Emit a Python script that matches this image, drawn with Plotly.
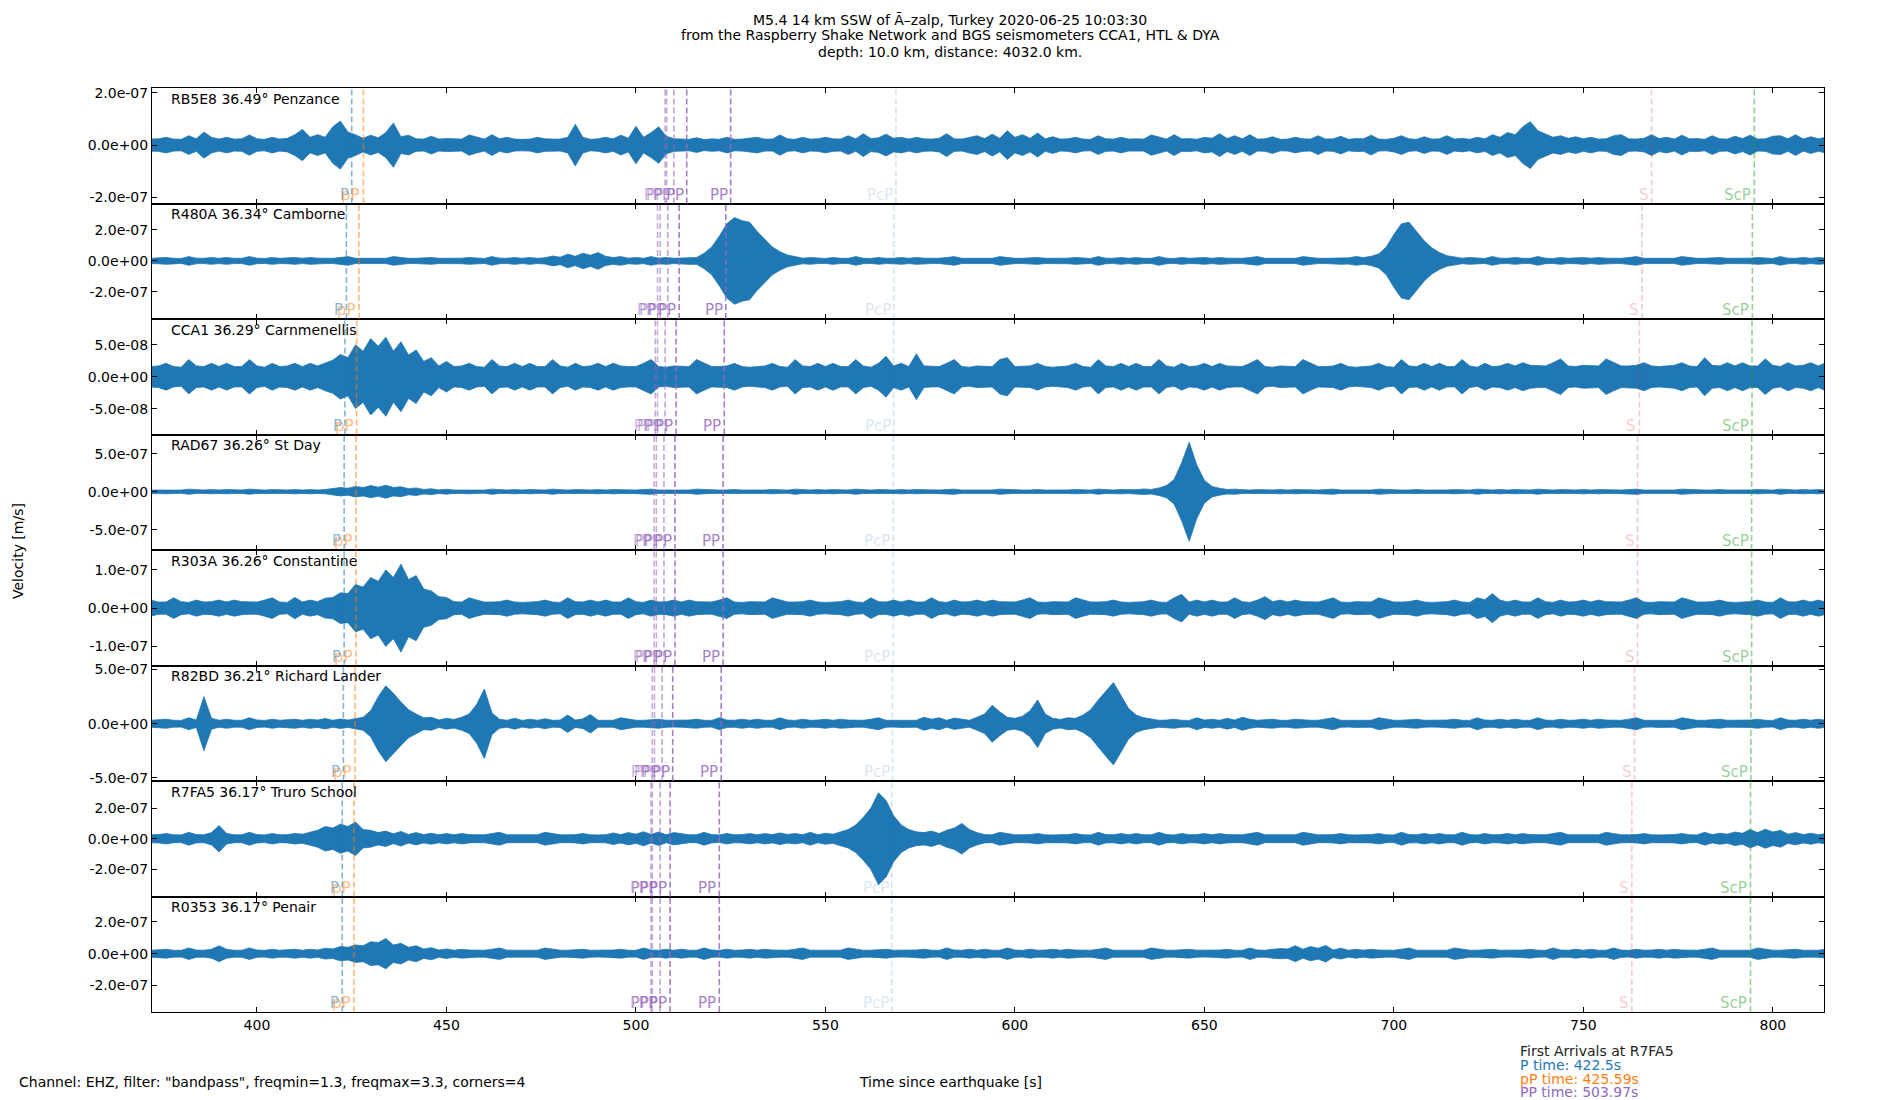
import numpy as np
import plotly.graph_objects as go
from plotly.subplots import make_subplots

# ---------------- data ----------------
stations = ["RB5E8", "R480A", "CCA1", "RAD67", "R303A", "R82BD", "R7FA5", "R0353"]
distances = [36.49, 36.34, 36.29, 36.26, 36.26, 36.21, 36.17, 36.17]
places = ["Penzance", "Camborne", "Carnmenellis", "St Day", "Constantine",
          "Richard Lander", "Truro School", "Penair"]

# y-axis limits of each panel (m/s) and the +/- tick value
y_lo = [-2.24e-7, -3.75e-7, -9.06e-8, -7.65e-7, -1.50e-7, -5.28e-7, -3.77e-7, -3.67e-7]
y_hi = [2.19e-7, 3.71e-7, 9.06e-8, 7.51e-7, 1.52e-7, 5.37e-7, 3.77e-7, 3.60e-7]
y_tick = [2e-7, 2e-7, 5e-8, 5e-7, 1e-7, 5e-7, 2e-7, 2e-7]

x_ticks = [400, 450, 500, 550, 600, 650, 700, 750, 800]
x_range = [372.3, 813.5]

# trace envelopes (peak |velocity|, in 1e-9 m/s) every 2 s starting at 372 s
T_START = 372.0
T_STEP = 2.0

env_rb5e8 = [
    23, 24, 30, 23, 22, 36, 24, 50, 30, 23,
    30, 23, 24, 39, 24, 22, 30, 23, 26, 40,
    60, 30, 40, 30, 70, 92, 50, 40, 26, 38,
    28, 48, 85, 32, 38, 24, 23, 34, 23, 25,
    24, 23, 39, 30, 23, 40, 24, 30, 23, 22,
    23, 30, 24, 23, 23, 30, 80, 30, 22, 24,
    30, 24, 38, 26, 72, 30, 48, 70, 34, 24,
    23, 22, 28, 21, 24, 22, 30, 22, 23, 26,
    30, 23, 23, 39, 24, 22, 30, 23, 24, 30,
    24, 23, 36, 24, 44, 25, 28, 42, 26, 30,
    23, 30, 24, 23, 26, 44, 24, 23, 30, 36,
    25, 42, 26, 55, 30, 40, 26, 46, 24, 32,
    23, 24, 30, 23, 22, 36, 24, 23, 30, 23,
    24, 23, 39, 30, 23, 40, 24, 25, 22, 30,
    26, 44, 25, 36, 24, 40, 23, 24, 32, 22,
    23, 30, 24, 23, 36, 23, 24, 34, 22, 25,
    24, 38, 23, 22, 26, 36, 24, 22, 32, 23,
    24, 36, 23, 26, 22, 30, 24, 40, 30, 48,
    40, 70, 90, 55, 44, 30, 36, 26, 32, 24,
    30, 23, 24, 36, 40, 24, 23, 26, 40, 25,
    30, 23, 38, 24, 25, 22, 36, 24, 23, 34,
    25, 38, 23, 24, 34, 36, 24, 40, 23, 32,
    24, 30]

env_r480a = [
    17, 18, 22, 17, 16, 28, 18, 17, 22, 17,
    22, 17, 17, 28, 18, 16, 22, 17, 18, 22,
    17, 22, 18, 17, 17, 22, 28, 17, 16, 18,
    18, 17, 28, 22, 17, 17, 18, 22, 17, 16,
    17, 18, 22, 17, 16, 28, 18, 17, 22, 17,
    22, 17, 20, 32, 24, 44, 30, 50, 36, 54,
    30, 22, 28, 18, 22, 17, 28, 18, 22, 17,
    18, 22, 22, 50, 90, 160, 240, 280, 260, 250,
    190, 140, 90, 60, 38, 28, 18, 22, 17, 16,
    22, 17, 17, 28, 18, 16, 22, 17, 18, 22,
    17, 22, 18, 17, 17, 22, 28, 17, 16, 18,
    18, 17, 28, 22, 17, 17, 18, 22, 17, 16,
    17, 18, 22, 17, 16, 28, 18, 17, 22, 17,
    22, 17, 17, 28, 18, 16, 22, 17, 18, 22,
    17, 22, 18, 17, 17, 22, 28, 17, 16, 18,
    18, 17, 28, 22, 17, 17, 18, 22, 20, 28,
    22, 30, 45, 90, 170, 240, 250, 190, 130, 85,
    55, 34, 24, 18, 22, 17, 16, 28, 18, 17,
    22, 17, 17, 28, 18, 16, 22, 17, 18, 22,
    17, 22, 18, 17, 17, 22, 28, 17, 16, 18,
    18, 17, 28, 22, 17, 17, 18, 22, 17, 16,
    17, 18, 22, 17, 16, 28, 18, 17, 22, 17,
    22, 18]

env_cca1 = [
    16, 17, 21, 16, 15, 27, 17, 16, 21, 16,
    21, 16, 16, 27, 17, 15, 21, 16, 17, 21,
    16, 21, 17, 22, 26, 35, 30, 50, 40, 60,
    48, 62, 40, 55, 34, 42, 24, 30, 17, 24,
    16, 17, 21, 16, 15, 27, 17, 16, 21, 16,
    21, 16, 16, 27, 17, 15, 21, 16, 17, 21,
    16, 21, 17, 16, 16, 21, 27, 16, 15, 17,
    17, 16, 27, 21, 16, 16, 17, 21, 16, 15,
    16, 17, 21, 16, 15, 27, 17, 16, 21, 16,
    21, 16, 16, 27, 17, 15, 21, 32, 17, 21,
    16, 36, 17, 16, 16, 21, 27, 16, 15, 17,
    17, 16, 27, 30, 16, 16, 17, 21, 16, 15,
    16, 17, 21, 16, 15, 27, 17, 16, 21, 16,
    21, 16, 16, 27, 17, 15, 21, 16, 17, 21,
    16, 21, 17, 16, 16, 21, 27, 16, 15, 17,
    17, 16, 27, 21, 16, 16, 17, 21, 16, 15,
    16, 17, 21, 16, 15, 27, 17, 16, 21, 16,
    21, 16, 16, 27, 17, 15, 21, 16, 17, 21,
    17, 22, 18, 17, 17, 22, 28, 17, 16, 18,
    18, 17, 28, 22, 17, 17, 18, 22, 17, 16,
    17, 18, 22, 17, 16, 30, 18, 17, 22, 17,
    22, 17, 17, 28, 18, 16, 22, 17, 18, 22,
    17, 22]

env_rad67 = [
    22, 23, 28, 22, 21, 34, 23, 22, 28, 22,
    28, 22, 22, 34, 23, 21, 28, 22, 23, 28,
    22, 28, 23, 28, 40, 55, 45, 70, 55, 80,
    60, 85, 55, 65, 40, 50, 30, 38, 24, 32,
    22, 23, 28, 22, 21, 34, 23, 22, 28, 22,
    28, 22, 22, 34, 23, 21, 28, 22, 23, 28,
    22, 28, 23, 22, 22, 28, 34, 22, 21, 23,
    23, 22, 34, 28, 22, 22, 23, 28, 22, 21,
    22, 23, 28, 22, 21, 34, 23, 22, 28, 22,
    28, 22, 22, 34, 23, 21, 28, 22, 23, 28,
    22, 28, 23, 22, 22, 28, 34, 22, 21, 23,
    23, 22, 34, 28, 22, 22, 23, 28, 22, 21,
    22, 23, 28, 22, 21, 34, 23, 22, 28, 24,
    26, 36, 30, 50, 80, 160, 380, 650, 350, 150,
    70, 45, 30, 34, 23, 21, 28, 22, 23, 28,
    22, 28, 23, 22, 22, 28, 34, 22, 21, 23,
    23, 22, 34, 28, 22, 22, 23, 28, 22, 21,
    22, 23, 28, 22, 21, 34, 23, 22, 28, 22,
    28, 22, 22, 34, 23, 21, 28, 22, 23, 28,
    22, 28, 23, 22, 22, 28, 34, 22, 21, 23,
    23, 22, 34, 28, 22, 22, 23, 28, 22, 21,
    22, 23, 28, 22, 21, 34, 23, 22, 28, 22,
    28, 22]

env_r303a = [
    21, 16, 16, 27, 17, 15, 21, 16, 17, 21,
    16, 21, 17, 16, 16, 21, 27, 16, 15, 28,
    16, 21, 17, 26, 28, 40, 38, 62, 55, 80,
    70, 100, 80, 115, 75, 85, 50, 45, 30, 28,
    17, 16, 27, 21, 16, 16, 17, 21, 16, 15,
    16, 17, 21, 16, 15, 27, 17, 16, 21, 16,
    21, 16, 16, 27, 17, 15, 21, 16, 17, 21,
    16, 21, 17, 16, 16, 21, 27, 16, 15, 17,
    17, 16, 27, 21, 16, 16, 17, 21, 16, 15,
    16, 17, 21, 16, 15, 27, 17, 16, 21, 16,
    21, 16, 16, 27, 17, 15, 21, 16, 17, 21,
    16, 21, 17, 16, 16, 21, 27, 16, 15, 17,
    17, 16, 27, 21, 16, 16, 17, 21, 16, 15,
    16, 17, 21, 16, 15, 27, 36, 16, 21, 16,
    21, 16, 16, 27, 17, 15, 21, 30, 17, 21,
    16, 21, 17, 16, 16, 21, 27, 16, 15, 17,
    17, 16, 27, 21, 16, 16, 17, 21, 16, 15,
    16, 17, 21, 16, 15, 27, 22, 38, 21, 16,
    21, 16, 16, 27, 17, 15, 21, 16, 17, 21,
    16, 21, 17, 16, 16, 21, 27, 16, 15, 17,
    17, 16, 27, 21, 16, 16, 17, 21, 16, 15,
    16, 17, 21, 16, 15, 27, 17, 16, 21, 16,
    21, 16]

env_r82bd = [
    32, 34, 42, 32, 31, 55, 34, 250, 50, 32,
    42, 32, 32, 55, 34, 31, 42, 32, 34, 42,
    32, 42, 34, 48, 32, 44, 34, 50, 60, 120,
    250, 350, 280, 200, 130, 90, 55, 60, 35, 50,
    40, 60, 90, 180, 320, 100, 42, 32, 50, 31,
    42, 32, 46, 32, 34, 80, 34, 45, 85, 32,
    34, 32, 55, 42, 32, 32, 34, 42, 32, 31,
    32, 34, 42, 32, 31, 55, 34, 32, 42, 32,
    42, 32, 32, 55, 34, 31, 42, 32, 34, 42,
    32, 42, 34, 32, 32, 42, 55, 32, 31, 34,
    34, 32, 60, 42, 55, 32, 52, 42, 32, 60,
    90, 170, 110, 60, 50, 70, 120, 220, 90, 50,
    40, 55, 50, 80, 130, 220, 300, 380, 260, 140,
    80, 56, 44, 32, 34, 42, 32, 31, 55, 34,
    42, 32, 50, 34, 60, 42, 32, 34, 42, 32,
    32, 42, 34, 32, 32, 42, 55, 32, 31, 34,
    34, 32, 55, 42, 32, 32, 34, 42, 32, 31,
    32, 34, 42, 32, 31, 55, 34, 32, 42, 32,
    42, 32, 32, 55, 34, 31, 42, 32, 34, 42,
    32, 42, 34, 32, 32, 42, 55, 32, 31, 34,
    34, 32, 55, 42, 32, 32, 34, 42, 32, 31,
    32, 34, 42, 32, 31, 55, 34, 32, 42, 32,
    42, 32]

env_r7fa5 = [
    26, 27, 34, 26, 25, 42, 27, 26, 40, 86,
    34, 26, 26, 42, 27, 25, 34, 26, 27, 34,
    30, 42, 55, 80, 70, 95, 80, 110, 60, 55,
    40, 50, 32, 48, 28, 40, 27, 36, 26, 34,
    26, 34, 27, 26, 26, 34, 42, 26, 25, 27,
    27, 26, 42, 34, 26, 26, 27, 34, 26, 25,
    26, 38, 27, 40, 30, 46, 28, 44, 26, 40,
    34, 26, 26, 42, 27, 25, 34, 26, 27, 34,
    26, 34, 27, 38, 28, 34, 26, 42, 26, 36,
    30, 46, 60, 90, 140, 200, 300, 250, 150, 90,
    60, 45, 40, 50, 34, 55, 70, 100, 60, 40,
    27, 26, 42, 34, 26, 26, 27, 34, 26, 25,
    26, 27, 34, 26, 25, 42, 27, 26, 34, 26,
    34, 26, 26, 42, 27, 25, 34, 26, 27, 34,
    26, 34, 27, 26, 26, 34, 42, 26, 25, 27,
    27, 26, 42, 34, 26, 26, 27, 34, 26, 25,
    26, 27, 34, 26, 25, 42, 27, 26, 34, 26,
    34, 26, 26, 42, 27, 25, 34, 26, 27, 34,
    26, 34, 27, 26, 26, 34, 42, 26, 25, 27,
    27, 26, 42, 34, 26, 26, 27, 34, 26, 25,
    26, 27, 34, 26, 25, 42, 27, 36, 30, 44,
    36, 60, 40, 62, 44, 55, 30, 40, 27, 36,
    26, 34]

env_r0353 = [
    22, 23, 28, 22, 21, 36, 23, 22, 28, 50,
    28, 22, 22, 36, 23, 21, 28, 22, 23, 28,
    22, 28, 23, 34, 30, 45, 40, 55, 50, 75,
    70, 95, 55, 65, 40, 50, 30, 38, 23, 30,
    22, 28, 23, 22, 22, 28, 36, 22, 21, 23,
    23, 22, 36, 28, 22, 22, 23, 28, 22, 21,
    22, 23, 28, 22, 21, 36, 23, 22, 28, 22,
    28, 22, 22, 36, 23, 21, 28, 22, 23, 28,
    22, 28, 23, 22, 22, 28, 36, 22, 21, 23,
    23, 22, 36, 28, 22, 22, 23, 28, 22, 21,
    22, 23, 28, 22, 21, 36, 23, 22, 28, 22,
    28, 22, 22, 36, 23, 21, 28, 22, 23, 28,
    22, 28, 23, 22, 22, 28, 36, 22, 21, 23,
    23, 22, 36, 28, 22, 22, 23, 28, 22, 21,
    22, 23, 28, 22, 21, 36, 23, 22, 28, 32,
    30, 50, 28, 45, 34, 52, 24, 34, 22, 28,
    22, 28, 23, 22, 22, 28, 36, 22, 21, 23,
    23, 22, 36, 28, 22, 22, 23, 28, 22, 21,
    22, 23, 28, 22, 21, 36, 23, 22, 28, 22,
    28, 22, 22, 36, 23, 21, 28, 22, 23, 28,
    22, 28, 23, 22, 22, 28, 36, 22, 21, 23,
    23, 22, 36, 28, 22, 22, 23, 28, 22, 21,
    22, 28]

envelopes = [env_rb5e8, env_r480a, env_cca1, env_rad67,
             env_r303a, env_r82bd, env_r7fa5, env_r0353]

# phase arrival times (s) per station
p_times = [425.0, 423.6, 423.2, 423.0, 423.0, 422.8, 422.5, 422.5]
pP_times = [428.1, 426.9, 426.3, 426.1, 426.1, 425.9, 425.59, 425.59]
pp1_times = [507.7, 505.7, 505.1, 504.8, 504.8, 504.3, 503.97, 503.97]
pp2_times = [508.1, 506.4, 505.7, 505.4, 505.4, 504.9, 504.3, 504.3]
pp3_times = [510.0, 508.4, 507.7, 507.4, 507.4, 506.9, 506.4, 506.4]
pp4_times = [513.4, 511.4, 510.6, 510.3, 510.3, 509.7, 509.0, 509.0]
pp5_times = [525.0, 523.7, 523.3, 523.0, 523.0, 522.5, 522.0, 522.0]
pcp_times = [568.6, 568.1, 568.0, 567.9, 567.9, 567.7, 567.5, 567.5]
s_times = [768.0, 765.5, 764.8, 764.3, 764.3, 763.5, 762.8, 762.8]
scp_times = [795.1, 794.6, 794.5, 794.4, 794.4, 794.2, 794.1, 794.1]

phases = [
    ("P", p_times, "rgba(31,119,180,0.55)"),
    ("pP", pP_times, "rgba(255,127,14,0.55)"),
    ("PP", pp1_times, "rgba(148,103,189,0.55)"),
    ("PP", pp2_times, "rgba(148,103,189,0.55)"),
    ("PP", pp3_times, "rgba(148,103,189,0.6)"),
    ("PP", pp4_times, "rgba(148,103,189,0.85)"),
    ("PP", pp5_times, "rgba(148,103,189,0.85)"),
    ("PcP", pcp_times, "rgba(31,119,180,0.2)"),
    ("S", s_times, "rgba(214,39,40,0.25)"),
    ("ScP", scp_times, "rgba(44,160,44,0.5)"),
]

title_lines = [
    "M5.4 14 km SSW of \u00c3\u2013zalp, Turkey 2020-06-25 10:03:30",
    "from the Raspberry Shake Network and BGS seismometers CCA1, HTL & DYA",
    "depth: 10.0 km, distance: 4032.0 km.",
]
arrival_lines = [
    ("First Arrivals at R7FA5", "#222222"),
    ("P time: 422.5s", "#1f77b4"),
    ("pP time: 425.59s", "#ff7f0e"),
    ("PP time: 503.97s", "#9467bd"),
]

# ---------------- figure ----------------
BLUE = "#1f77b4"
FONT = "DejaVu Sans"
W, H = 1900, 1100
L, R, T, B = 152, 1824, 88, 1012  # plot area in pixels

n = len(stations)
fig = make_subplots(rows=n, cols=1, shared_xaxes=True, vertical_spacing=0)

for i in range(n):
    a = np.array(envelopes[i], dtype=float) * 1e-9
    t = T_START + T_STEP * np.arange(len(a))
    x = np.concatenate([t, t[::-1]])
    y = np.concatenate([a, -a[::-1]])
    fig.add_trace(go.Scatter(x=x, y=y, mode="lines", fill="toself",
                             fillcolor=BLUE, line=dict(color=BLUE, width=0.8),
                             hoverinfo="skip", showlegend=False),
                  row=i + 1, col=1)
    tv = [y_tick[i], 0.0, -y_tick[i]]
    fig.update_yaxes(range=[y_lo[i], y_hi[i]], tickvals=tv,
                     ticktext=[f"{v:.1e}" for v in tv], row=i + 1, col=1)

fig.update_yaxes(showline=True, linecolor="black", linewidth=1, mirror="allticks",
                 ticks="inside", ticklen=5, tickwidth=1, tickcolor="black",
                 showgrid=False, zeroline=False,
                 tickfont=dict(family=FONT, size=14, color="black"))
fig.update_xaxes(range=x_range, tickvals=x_ticks, showline=True, linecolor="black",
                 linewidth=1, mirror="allticks", ticks="inside", ticklen=5,
                 tickwidth=1, tickcolor="black", showgrid=False, zeroline=False,
                 tickfont=dict(family=FONT, size=14, color="black"))

shapes = []
annotations = []
for i in range(n):
    xr = "x" if i == 0 else f"x{i + 1}"
    yd = "y domain" if i == 0 else f"y{i + 1} domain"
    xd = "x domain" if i == 0 else f"x{i + 1} domain"
    for name, times, col in phases:
        shapes.append(dict(type="line", xref=xr, yref=yd, x0=times[i], x1=times[i],
                           y0=0, y1=1, layer="above",
                           line=dict(color=col, width=1.6, dash="6px,3px")))
        annotations.append(dict(text=name, xref=xr, yref=yd, x=times[i], y=0,
                                xanchor="right", yanchor="bottom", xshift=-1, yshift=-2,
                                showarrow=False,
                                font=dict(family=FONT, size=15, color=col)))
    annotations.append(dict(text=f"{stations[i]} {distances[i]:.2f}\u00b0 {places[i]}",
                            xref=xd, yref=yd, x=0.0102, y=0.905, xanchor="left",
                            yanchor="middle", showarrow=False,
                            font=dict(family=FONT, size=14, color="black")))


def px(X):
    return (X - L) / (R - L)


def py(Y):
    return (B - Y) / (B - T)


for line, Y in zip(title_lines, [20, 35.5, 51.5]):
    annotations.append(dict(text=line, xref="paper", yref="paper", x=px(950), y=py(Y),
                            xanchor="center", yanchor="middle", showarrow=False,
                            font=dict(family=FONT, size=14, color="black")))

annotations.append(dict(text="Velocity [m/s]", xref="paper", yref="paper",
                        x=px(18), y=py(551), textangle=-90, xanchor="center",
                        yanchor="middle", showarrow=False,
                        font=dict(family=FONT, size=14, color="black")))
annotations.append(dict(text='Channel: EHZ, filter: "bandpass", freqmin=1.3, freqmax=3.3, corners=4',
                        xref="paper", yref="paper", x=px(17), y=py(1082),
                        xanchor="left", yanchor="middle", showarrow=False,
                        font=dict(family=FONT, size=14, color="black")))
annotations.append(dict(text="Time since earthquake [s]", xref="paper", yref="paper",
                        x=px(950), y=py(1082), xanchor="center", yanchor="middle",
                        showarrow=False, font=dict(family=FONT, size=14, color="black")))
for (txt, col), Y in zip(arrival_lines, [1051, 1065, 1078.5, 1092]):
    annotations.append(dict(text=txt, xref="paper", yref="paper", x=px(1518), y=py(Y),
                            xanchor="left", yanchor="middle", showarrow=False,
                            font=dict(family=FONT, size=14, color=col)))

fig.update_layout(
    width=W, height=H,
    margin=dict(l=L, r=W - R, t=T, b=H - B, pad=0),
    plot_bgcolor="white", paper_bgcolor="white",
    font=dict(family=FONT, size=14, color="black"),
    showlegend=False,
    shapes=shapes, annotations=annotations,
)

fig.write_html("out.html", config={"displayModeBar": False},
               post_script="document.body.style.margin='0';")
